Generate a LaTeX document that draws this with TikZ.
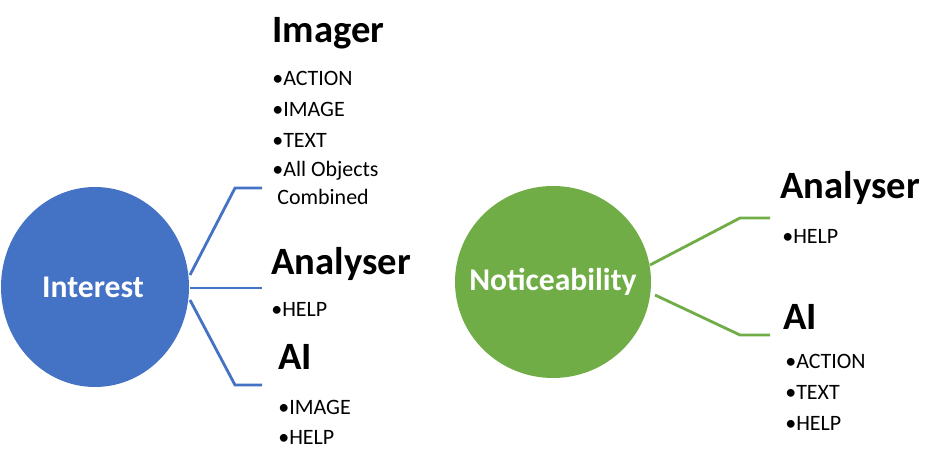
\documentclass[tikz,border=0pt]{standalone}
\usepackage{fontspec}
\setmainfont{Carlito}
\usetikzlibrary{positioning}
\definecolor{interestblue}{HTML}{4472C4}
\definecolor{noticegreen}{HTML}{70AD47}
\begin{document}
\begin{tikzpicture}[
  x=0.02cm, y=-0.02cm,
  title/.style = {anchor=west, inner sep=0pt, font=\fontsize{22}{24}\selectfont\bfseries},
  item/.style = {anchor=west, inner sep=0pt, font=\fontsize{12.5}{15}\selectfont},
  hub/.style = {ellipse, minimum width=186\pgflinewidth, text=white, font=\fontsize{18}{20}\selectfont\bfseries},
  blueline/.style = {draw=interestblue, line width=1.6pt},
  greenline/.style = {draw=noticegreen, line width=1.6pt}
]
\useasboundingbox (0,0) rectangle (933,452);

% hubs
\fill[interestblue] (95,287) ellipse [x radius=94, y radius=100];
\node[text=white, font=\fontsize{18}{20}\selectfont\bfseries] (interest) at (93,287) {Interest};
\fill[noticegreen] (553,282) ellipse [x radius=98, y radius=96];
\node[text=white, font=\fontsize{18}{20}\selectfont\bfseries] (notice) at (553,282) {Noticeability};

% left branches
\coordinate (i1) at (190,275); \coordinate (i1b) at (235,188); \coordinate (i1e) at (262,188);
\coordinate (i2) at (190,288); \coordinate (i2e) at (262,288);
\coordinate (i3) at (190,300); \coordinate (i3b) at (235,385); \coordinate (i3e) at (262,385);
\draw[blueline] (i1) -- (i1b) -- (i1e);
\draw[blueline] (i2) -- (i2e);
\draw[blueline] (i3) -- (i3b) -- (i3e);

% right branches
\coordinate (n1) at (650,265); \coordinate (n1b) at (740,218); \coordinate (n1e) at (770,218);
\coordinate (n2) at (655,295); \coordinate (n2b) at (740,335); \coordinate (n2e) at (770,335);
\draw[greenline] (n1) -- (n1b) -- (n1e);
\draw[greenline] (n2) -- (n2b) -- (n2e);

% left texts
\node[title] (imager) at (272,33) {Imager};
\node[item] (im1) at (272,78) {•ACTION};
\node[item] (im2) at (272,109) {•IMAGE};
\node[item] (im3) at (272,140) {•TEXT};
\node[item] (im4) at (272,171) {•All Objects};
\node[item] (im5) at (277,197) {Combined};
\node[title] (analyserA) at (271,264) {Analyser};
\node[item] (an1) at (271,309) {•HELP};
\node[title] (aiA) at (278,357) {AI};
\node[item] (ai1) at (278,407) {•IMAGE};
\node[item] (ai2) at (278,437) {•HELP};

% right texts
\node[title] (analyserB) at (780,188) {Analyser};
\node[item] (bn1) at (782,236) {•HELP};
\node[title] (aiB) at (783,317) {AI};
\node[item] (bi1) at (785,361) {•ACTION};
\node[item] (bi2) at (785,392) {•TEXT};
\node[item] (bi3) at (785,423) {•HELP};
\end{tikzpicture}
\end{document}
